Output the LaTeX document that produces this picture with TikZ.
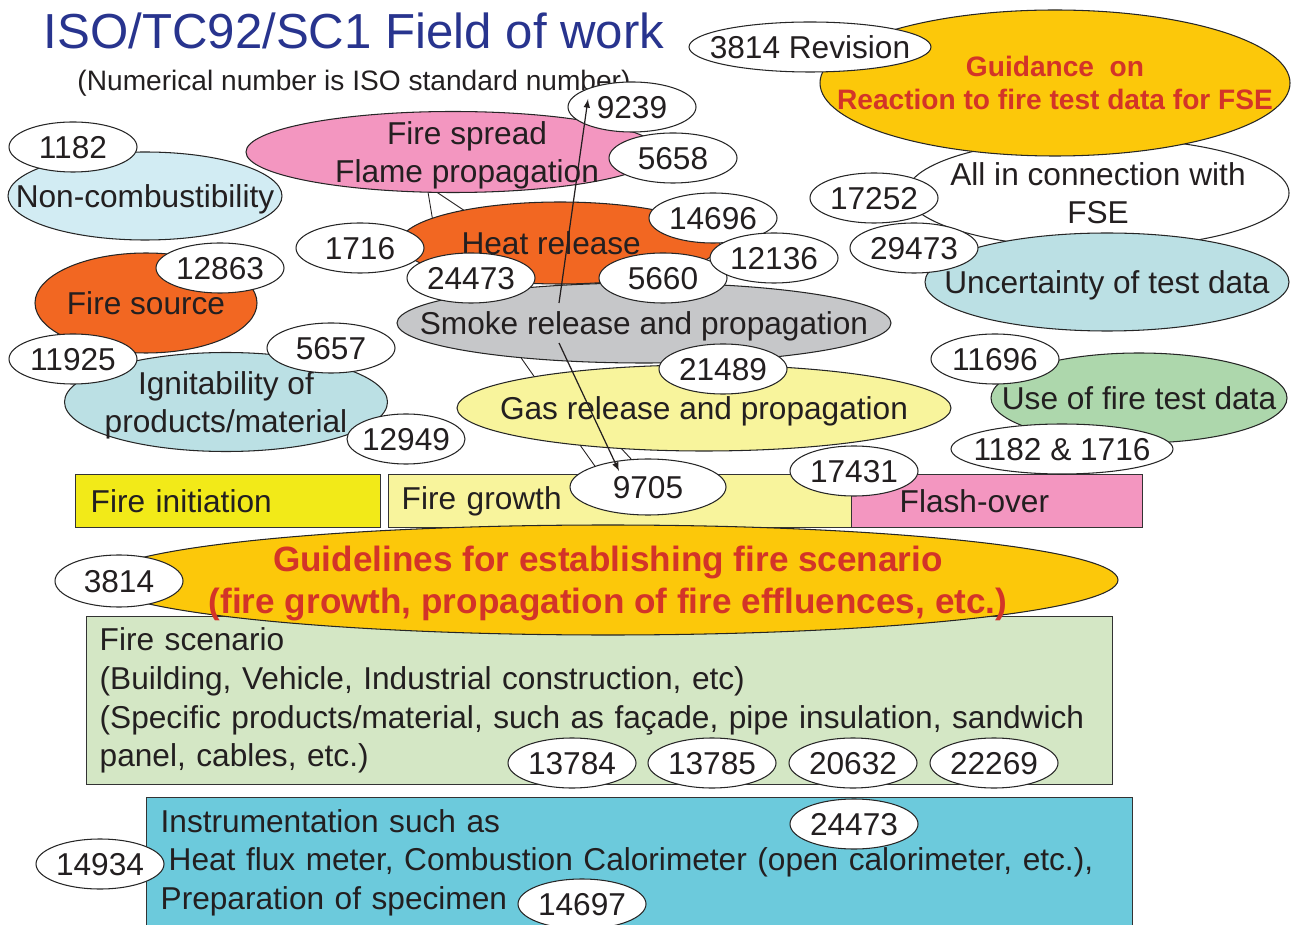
\documentclass[tikz,border=0pt]{standalone}
\usepackage{fontspec}
\setmainfont{Liberation Sans}
\usetikzlibrary{shapes.geometric}

\definecolor{inkgray}{RGB}{35,31,32}
\definecolor{titleblue}{RGB}{40,52,142}
\definecolor{alertred}{RGB}{211,52,40}
\definecolor{paleblue}{RGB}{210,236,243}
\definecolor{iceblue}{RGB}{187,224,228}
\definecolor{rosepink}{RGB}{243,150,192}
\definecolor{fireorange}{RGB}{242,103,34}
\definecolor{smokegray}{RGB}{198,199,201}
\definecolor{paleyellow}{RGB}{248,244,156}
\definecolor{brightyellow}{RGB}{242,234,24}
\definecolor{gold}{RGB}{252,200,10}
\definecolor{sagegreen}{RGB}{173,215,172}
\definecolor{mintgreen}{RGB}{212,231,197}
\definecolor{skycyan}{RGB}{108,202,220}

\tikzset{
  lbl/.style={font=\fontsize{18}{22}\selectfont, text=inkgray},
  sz/.style 2 args={minimum width=#1*0.02cm, minimum height=#2*0.02cm},
  blob/.style={ellipse, draw=black!85, line width=0.6pt, inner sep=-40pt, align=center, lbl, text depth=0pt},
  num/.style={blob, fill=white, sz={128}{50}},
  band/.style={rectangle, draw=black!80, line width=0.8pt, inner ysep=0pt, align=left, anchor=north west, lbl},
  bgline/.style={draw=inkgray, line width=0.5pt},
  pointer/.style={draw=inkgray, line width=0.7pt, -latex},
}

\begin{document}
\begin{tikzpicture}[x=0.02cm, y=-0.02cm]
  \useasboundingbox (0,0) rectangle (1298,925);
  \clip (0,0) rectangle (1298,925);

  % connector stubs left behind the shapes
  \coordinate (s1a) at (427,186);  \coordinate (s1b) at (433,222);
  \coordinate (s2a) at (432,189);  \coordinate (s2b) at (471,215);
  \coordinate (s3a) at (517,352);  \coordinate (s3b) at (538,382);
  \coordinate (s4a) at (575,438);  \coordinate (s4b) at (597,469);
  \coordinate (s5a) at (619,446);  \coordinate (s5b) at (632,460);
  \foreach \from/\to in {s1a/s1b,s2a/s2b,s3a/s3b,s4a/s4b,s5a/s5b}
    \draw[bgline] (\from) -- (\to);

  \node[font=\fontsize{28}{34}\selectfont, text=titleblue] (title) at (354,31) {ISO/TC92/SC1 Field of work};
  \node[font=\fontsize{16}{19}\selectfont, text=inkgray, text depth=0pt] (subtitle) at (354,80) {(Numerical number is ISO standard number)};

  % phase bands and boxes
  \node[band, fill=brightyellow, minimum height=1.06cm, text width=5.5cm, inner xsep=0.3cm] (initiation) at (75,474) {Fire initiation};
  \node[band, fill=paleyellow, minimum height=1.06cm, text width=8.74cm, inner xsep=0.26cm] (growth) at (388,474) {Fire growth};
  \node[band, fill=rosepink, minimum height=1.06cm, text width=3.9cm, inner xsep=0.96cm] (flashover) at (851,474) {Flash-over};
  \node[band, fill=mintgreen, minimum height=3.36cm, text width=20cm, inner xsep=0.26cm] (scenario) at (86,616)
    {Fire scenario\\(Building, Vehicle, Industrial construction, etc)\\(Specific products/material, such as façade, pipe insulation, sandwich\\panel, cables, etc.)};
  \node[band, fill=skycyan, minimum height=2.6cm, text width=19.16cm, inner xsep=0.28cm] (instrument) at (146,797)
    {Instrumentation such as\\\hspace*{0.16cm}Heat flux meter, Combustion Calorimeter (open calorimeter, etc.),\\Preparation of specimen};

  % fields of work
  \node[blob, fill=paleblue, sz={274}{88}] (noncomb) at (145,196) {Non-combustibility};
  \node[blob, fill=rosepink, sz={414}{81}] (spread) at (453,152) {\hspace*{16pt}Fire spread\\\hspace*{16pt}Flame propagation};
  \node[blob, fill=fireorange, sz={320}{82}] (heat) at (560,243) {Heat release\hspace*{10pt}};
  \node[blob, fill=smokegray, sz={494}{80}] (smoke) at (644,323) {Smoke release and propagation};
  \node[blob, fill=paleyellow, sz={494}{86}] (gas) at (704,408) {Gas release and propagation};
  \node[blob, fill=fireorange, sz={222}{100}] (source) at (146,303) {Fire source};
  \node[blob, fill=iceblue, sz={323}{99}] (ignit) at (226,402) {Ignitability of\\products/material};
  \node[blob, fill=white, sz={382}{110}] (allfse) at (1098,193) {All in connection with\\FSE};
  \node[blob, fill=gold, sz={470}{146}, font=\fontsize{16}{19}\selectfont\bfseries, text=alertred] (guidance) at (1055,83)
    {Guidance\ \ on\\Reaction to fire test data for FSE};
  \node[blob, fill=iceblue, sz={364}{98}] (uncert) at (1107,282) {Uncertainty of test data};
  \node[blob, fill=sagegreen, sz={296}{90}] (usedata) at (1139,398) {Use of fire test data};
  \node[blob, fill=gold, sz={1020}{110}, font=\fontsize{20}{24}\selectfont\bfseries, text=alertred] (guidelines) at (608,580)
    {Guidelines for establishing fire scenario\\(fire growth, propagation of fire effluences, etc.)};

  % ISO standard numbers
  \foreach \nm/\cx/\cy/\txt in {n1182/73/147/1182, n9239/632/107/9239, n5658/673/158/5658,
      n1716/360/248/1716, n24473a/471/278/24473, n14696/713/218/14696, n5660/663/278/5660,
      n12136/774/258/12136, n21489/723/369/21489, n5657/331/348/5657, n12863/220/268/12863,
      n11925/73/359/11925, n17252/874/198/17252, n29473/914/248/29473, n11696/995/359/11696,
      n17431/854/471/17431, n13784/572/763/13784, n13785/712/763/13785, n20632/853/763/20632,
      n22269/994/763/22269, n24473b/854/824/24473, n14934/100/864/14934, n14697/582/904/14697}
    \node[num] (\nm) at (\cx,\cy) {\txt};
  \node[num, sz={118}{50}] (n12949) at (406,439) {12949};
  \node[num, sz={242}{50}] (rev3814) at (810,47) {3814 Revision};
  \node[num, sz={222}{50}] (n1182b) at (1062,449) {1182 \& 1716};
  \node[num, sz={156}{56}] (n9705) at (648,487) {9705};
  \node[num, sz={128}{52}] (n3814) at (119,581) {3814};

  % pointers from smoke release
  \coordinate (smoketop) at (559,303);
  \coordinate (tip9239) at (588,99);
  \coordinate (smokebot) at (559,343);
  \coordinate (tip9705) at (619,471);
  \draw[pointer] (smoketop) -- (tip9239);
  \draw[pointer] (smokebot) -- (tip9705);
\end{tikzpicture}
\end{document}
